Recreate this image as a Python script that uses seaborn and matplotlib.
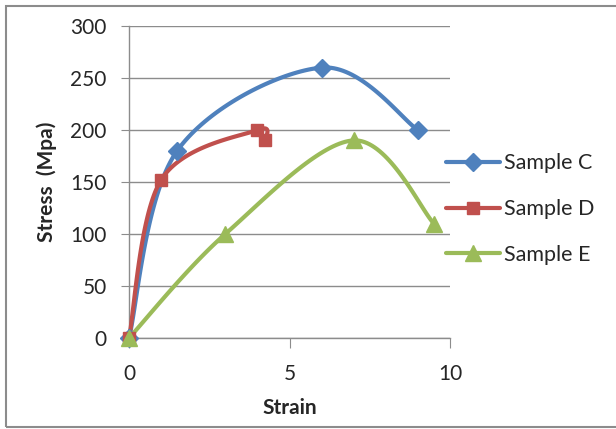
import numpy as np
import pandas as pd
import matplotlib
matplotlib.use("Agg")
import matplotlib.pyplot as plt
from matplotlib.lines import Line2D
from matplotlib.patches import Rectangle
import seaborn as sns

sns.set_style("white")
plt.rcParams['font.family'] = ['Lato', 'DejaVu Sans']

# data
samples = ["Sample C", "Sample D", "Sample E"]
strain_c = [0, 1.5, 6, 9]
stress_c = [0, 180, 260, 200]
strain_d = [0, 1, 4, 4.25]
stress_d = [0, 152, 200, 190]
strain_e = [0, 3, 7, 9.5]
stress_e = [0, 100, 190, 110]

colors = {"Sample C": "#4F81BD", "Sample D": "#C0504D", "Sample E": "#9BBB59"}
markers = {"Sample C": "D", "Sample D": "s", "Sample E": "^"}
msizes = {"Sample C": 9, "Sample D": 9, "Sample E": 11}

pts = pd.DataFrame({
    "Strain": strain_c + strain_d + strain_e,
    "Stress": stress_c + stress_d + stress_e,
    "Sample": ["Sample C"] * 4 + ["Sample D"] * 4 + ["Sample E"] * 4,
})


def smooth(x, y, n=40):
    # Catmull-Rom style curve like Excel's "smoothed line"
    p = np.column_stack([x, y]).astype(float)
    p = np.vstack([p[0], p, p[-1]])
    out = []
    t = np.linspace(0, 1, n)[:, None]
    for i in range(1, len(p) - 2):
        p0, p1, p2, p3 = p[i - 1], p[i], p[i + 1], p[i + 2]
        c1 = p1 + (p2 - p0) / 6
        c2 = p2 - (p3 - p1) / 6
        seg = ((1 - t) ** 3) * p1 + 3 * ((1 - t) ** 2) * t * c1 + 3 * (1 - t) * t ** 2 * c2 + t ** 3 * p2
        out.append(seg)
    s = np.vstack(out)
    return s[:, 0], s[:, 1]


curves = []
for name in samples:
    sub = pts[pts["Sample"] == name]
    sx, sy = smooth(sub["Strain"].values, sub["Stress"].values)
    curves.append(pd.DataFrame({"Strain": sx, "Stress": sy, "Sample": name}))
curves = pd.concat(curves, ignore_index=True)

fig = plt.figure(figsize=(6.16, 4.29), dpi=100)
ax = fig.add_axes([129 / 616, 1 - 338 / 429, 321 / 616, 312 / 429])

grid_col = "#8c8c8c"
for name in samples:
    c = curves[curves["Sample"] == name]
    sns.lineplot(data=c, x="Strain", y="Stress", sort=False, estimator=None,
                 color=colors[name], lw=3, ax=ax, clip_on=False, zorder=3)
    p = pts[pts["Sample"] == name]
    ax.plot(p["Strain"], p["Stress"], ls="none", marker=markers[name],
            ms=msizes[name], color=colors[name], mec=colors[name],
            clip_on=False, zorder=4)

ax.set_xlim(0, 10)
ax.set_ylim(0, 300)
ax.set_xticks([0, 5, 10])
ax.set_yticks(range(0, 301, 50))
ax.yaxis.grid(True, color=grid_col, lw=1)
ax.set_axisbelow(True)
for s in ["top", "right"]:
    ax.spines[s].set_visible(False)
for s in ["left", "bottom"]:
    ax.spines[s].set_color(grid_col)
    ax.spines[s].set_linewidth(1)
ax.tick_params(axis="y", direction="out", length=6, color=grid_col,
               labelsize=15, pad=10, left=True)
ax.tick_params(axis="x", direction="out", length=7, color=grid_col,
               labelsize=15, pad=12, bottom=True)
ax.set_xlabel("Strain", fontsize=15, fontweight="bold", labelpad=10)
ax.set_ylabel("Stress  (Mpa)", fontsize=15, fontweight="bold", labelpad=10)

handles = [Line2D([], [], color=colors[n], lw=3, marker=markers[n],
                  ms=msizes[n]) for n in samples]
ax.legend(handles, samples, loc="center left", bbox_to_anchor=(0.928, 0.413),
          frameon=False, fontsize=15.5, handlelength=2.5, handletextpad=0.2,
          labelspacing=1.2)

fig.patches.append(Rectangle((6 / 616, 2 / 429), 1.2, 421 / 429,
                             transform=fig.transFigure, fill=False,
                             ec="#8c8c8c", lw=1.5))

fig.savefig("out.png", dpi=100)
